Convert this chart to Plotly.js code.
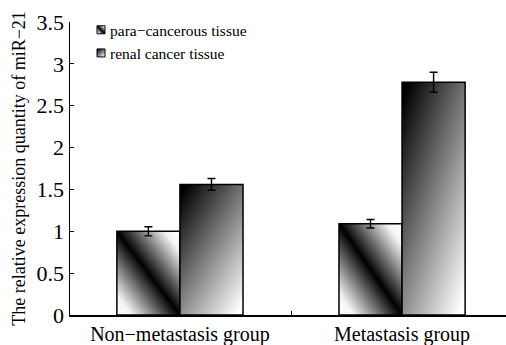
<!DOCTYPE html>
<html>
<head>
<meta charset="utf-8">
<script src="https://cdn.plot.ly/plotly-3.0.1.min.js"></script>
<style>html,body{margin:0;padding:0;background:#fff;}</style>
</head>
<body>
<div id="chart" style="width:506px;height:345px;"></div>
<script>
const categories = ['Non\u2212metastasis group', 'Metastasis group'];
const seriesNames = ['para\u2212cancerous tissue', 'renal cancer tissue'];
const paraValues = [1.00, 1.09];
const paraErrors = [0.055, 0.05];
const renalValues = [1.56, 2.78];
const renalErrors = [0.07, 0.12];
const yTickValues = [0, 0.5, 1, 1.5, 2, 2.5, 3, 3.5];
const yTickLabels = ['0', '0.5', '1', '1.5', '2', '2.5', '3', '3.5'];
const yTitle = 'The relative expression quantity of miR\u221221';

const serif = 'Liberation Serif';
const errStyle = {type: 'data', visible: true, color: '#000', thickness: 1.4, width: 4};

const traces = [
  {type: 'bar', name: seriesNames[0], x: categories, y: paraValues,
   error_y: Object.assign({array: paraErrors}, errStyle),
   marker: {color: '#777', line: {color: '#000', width: 1.5}}},
  {type: 'bar', name: seriesNames[1], x: categories, y: renalValues,
   error_y: Object.assign({array: renalErrors}, errStyle),
   marker: {color: '#999', line: {color: '#000', width: 1.5}}}
];

const layout = {
  width: 506, height: 345,
  margin: {l: 70, r: 0, t: 22, b: 30, pad: 0},
  paper_bgcolor: '#fff', plot_bgcolor: '#fff',
  font: {family: serif, color: '#000'},
  barmode: 'group', bargap: 0.432, bargroupgap: 0,
  showlegend: true,
  legend: {x: 0.0, xanchor: 'left', y: 1.03, yanchor: 'top', bgcolor: 'rgba(0,0,0,0)',
           font: {family: serif, size: 15.5, color: '#000'}, itemclick: false},
  xaxis: {type: 'category', range: [-0.495, 1.468], showline: true, linecolor: '#000', linewidth: 1.5,
          ticks: 'inside', tickson: 'boundaries', ticklen: 4, tickcolor: '#000', tickwidth: 1,
          showgrid: false, zeroline: false, tickfont: {family: serif, size: 20, color: '#000'},
          ticklabelstandoff: 0},
  yaxis: {range: [0, 3.5], tickvals: yTickValues, ticktext: yTickLabels, showline: true, linecolor: '#000', linewidth: 1.5,
          ticks: 'inside', ticklen: 4, tickcolor: '#000', showgrid: false, zeroline: false,
          tickfont: {family: serif, size: 22, color: '#000'},
          title: {text: yTitle, font: {family: serif, size: 18, color: '#000'}, standoff: 6}}
};

Plotly.newPlot('chart', traces, layout, {displayModeBar: false, staticPlot: true}).then(function () {
  const svgNS = 'http://www.w3.org/2000/svg';
  const svg = document.querySelector('#chart .main-svg');
  let defs = svg.querySelector('defs');
  if (!defs) { defs = document.createElementNS(svgNS, 'defs'); svg.insertBefore(defs, svg.firstChild); }
  function grad(id, x1, y1, x2, y2, stops) {
    const g = document.createElementNS(svgNS, 'linearGradient');
    g.setAttribute('id', id);
    g.setAttribute('x1', x1); g.setAttribute('y1', y1); g.setAttribute('x2', x2); g.setAttribute('y2', y2);
    stops.forEach(function (s) {
      const st = document.createElementNS(svgNS, 'stop');
      st.setAttribute('offset', s[0]); st.setAttribute('stop-color', s[1]);
      g.appendChild(st);
    });
    defs.appendChild(g);
  }
  grad('gradPara', 0, 1, 1, 0, [[0, '#ffffff'], [0.12, '#f4f4f4'], [0.5, '#000000'], [0.88, '#f4f4f4'], [1, '#ffffff']]);
  grad('gradRenal', 0.1, 0, 0.9, 1, [[0, '#000000'], [1, '#ffffff']]);
  const fills = ['url(#gradPara)', 'url(#gradRenal)'];
  document.querySelectorAll('#chart .barlayer .trace').forEach(function (tr, i) {
    tr.querySelectorAll('.point path').forEach(function (p) { p.style.fill = fills[i]; });
  });
  document.querySelectorAll('#chart .legend .traces').forEach(function (tr, i) {
    tr.querySelectorAll('.legendpoints path').forEach(function (p) {
      p.style.fill = fills[i];
      p.setAttribute('d', 'M4,4H-4V-4H4Z');
      p.setAttribute('transform', 'translate(31,0)');
      p.style.strokeWidth = '1px';
    });
  });
});
</script>
</body>
</html>
